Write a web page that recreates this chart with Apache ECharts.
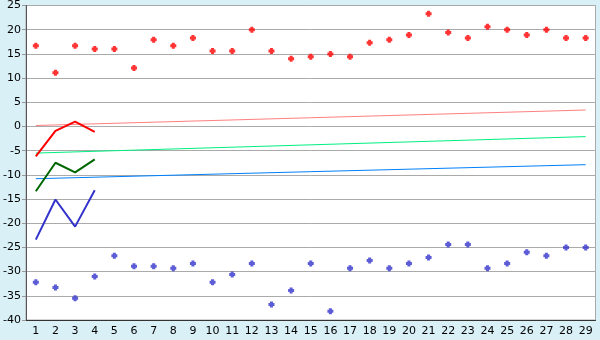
<!DOCTYPE html>
<html>
<head>
<meta charset="utf-8">
<script src="https://cdn.jsdelivr.net/npm/echarts@6/dist/echarts.min.js"></script>
<style>
html,body{margin:0;padding:0;background:#d9f0f7;}
#chart{width:600px;height:340px;}
</style>
</head>
<body>
<div id="chart"></div>
<script>
var categories = ['1','2','3','4','5','6','7','8','9','10','11','12','13','14','15','16','17','18','19','20','21','22','23','24','25','26','27','28','29'];
var redPoints = [16.7,11.1,16.7,16.0,16.0,12.1,17.9,16.7,18.3,15.6,15.6,20.0,15.6,14.0,14.4,15.0,14.4,17.3,17.9,18.9,23.3,19.4,18.3,20.6,20.0,18.9,20.0,18.3,18.3];
var bluePoints = [-32.2,-33.3,-35.5,-31.0,-26.7,-28.9,-28.9,-29.3,-28.3,-32.2,-30.6,-28.3,-36.8,-33.9,-28.3,-38.2,-29.3,-27.7,-29.3,-28.3,-27.1,-24.4,-24.4,-29.3,-28.3,-26.0,-26.7,-25.0,-25.0];
var redLine = [-6.2,-0.9,1.0,-1.1];
var greenLine = [-13.4,-7.5,-9.5,-6.8];
var blueLine = [-23.4,-15.1,-20.7,-13.2];
var trendX = [1, 29];
var pinkTrend = [0.2, 3.4];
var greenTrend = [-5.5, -2.1];
var blueTrend = [-10.8, -7.9];
var yTicks = [-40,-35,-30,-25,-20,-15,-10,-5,0,5,10,15,20,25];

function pairs(xs, ys){ return xs.map(function(x,i){ return [x, ys[i]]; }); }
var plus = 'path://M1.5,0H4.5V1.5H6V4.5H4.5V6H1.5V4.5H0V1.5H1.5Z';
var font = 'DejaVu Sans';

var chart = echarts.init(document.getElementById('chart'), null, {renderer:'canvas'});
chart.setOption({
  animation:false,
  backgroundColor:'#d9f0f7',
  grid:{left:26, top:5, width:569.5, height:315, show:true, backgroundColor:'#ffffff', borderColor:'#aaaaaa', borderWidth:1},
  xAxis:[{
    type:'category', data:categories, boundaryGap:true,
    axisLine:{onZero:false, lineStyle:{color:'#333333', width:1}},
    axisTick:{alignWithLabel:true, length:5, lineStyle:{color:'#333333'}},
    axisLabel:{color:'#000000', fontFamily:font, fontSize:11, margin:6, interval:0},
    splitLine:{show:false}
  },{
    type:'value', min:0.5, max:29.5, show:false
  }],
  yAxis:{
    type:'value', min:yTicks[0], max:yTicks[yTicks.length-1], interval:5,
    axisLine:{show:true, lineStyle:{color:'#555555'}},
    axisTick:{show:true, length:4, lineStyle:{color:'#999999'}},
    axisLabel:{color:'#000000', fontFamily:font, fontSize:11, margin:5},
    splitLine:{show:true, lineStyle:{color:'#aaaaaa', width:1}}
  },
  series:[
    {type:'line', xAxisIndex:1, data:pairs(trendX, pinkTrend), symbol:'none', lineStyle:{color:'#ff8080', width:1}},
    {type:'line', xAxisIndex:1, data:pairs(trendX, greenTrend), symbol:'none', lineStyle:{color:'#00f080', width:1}},
    {type:'line', xAxisIndex:1, data:pairs(trendX, blueTrend), symbol:'none', lineStyle:{color:'#0080ff', width:1}},
    {type:'line', data:redLine, symbol:'none', lineStyle:{color:'#ff0000', width:2}},
    {type:'line', data:greenLine, symbol:'none', lineStyle:{color:'#006600', width:2}},
    {type:'line', data:blueLine, symbol:'none', lineStyle:{color:'#3333cc', width:2}},
    {type:'scatter', data:redPoints, symbol:plus, symbolSize:6, itemStyle:{color:'#ff0000'}},
    {type:'scatter', data:bluePoints, symbol:plus, symbolSize:6, itemStyle:{color:'#3333cc'}}
  ]
});
</script>
</body>
</html>
